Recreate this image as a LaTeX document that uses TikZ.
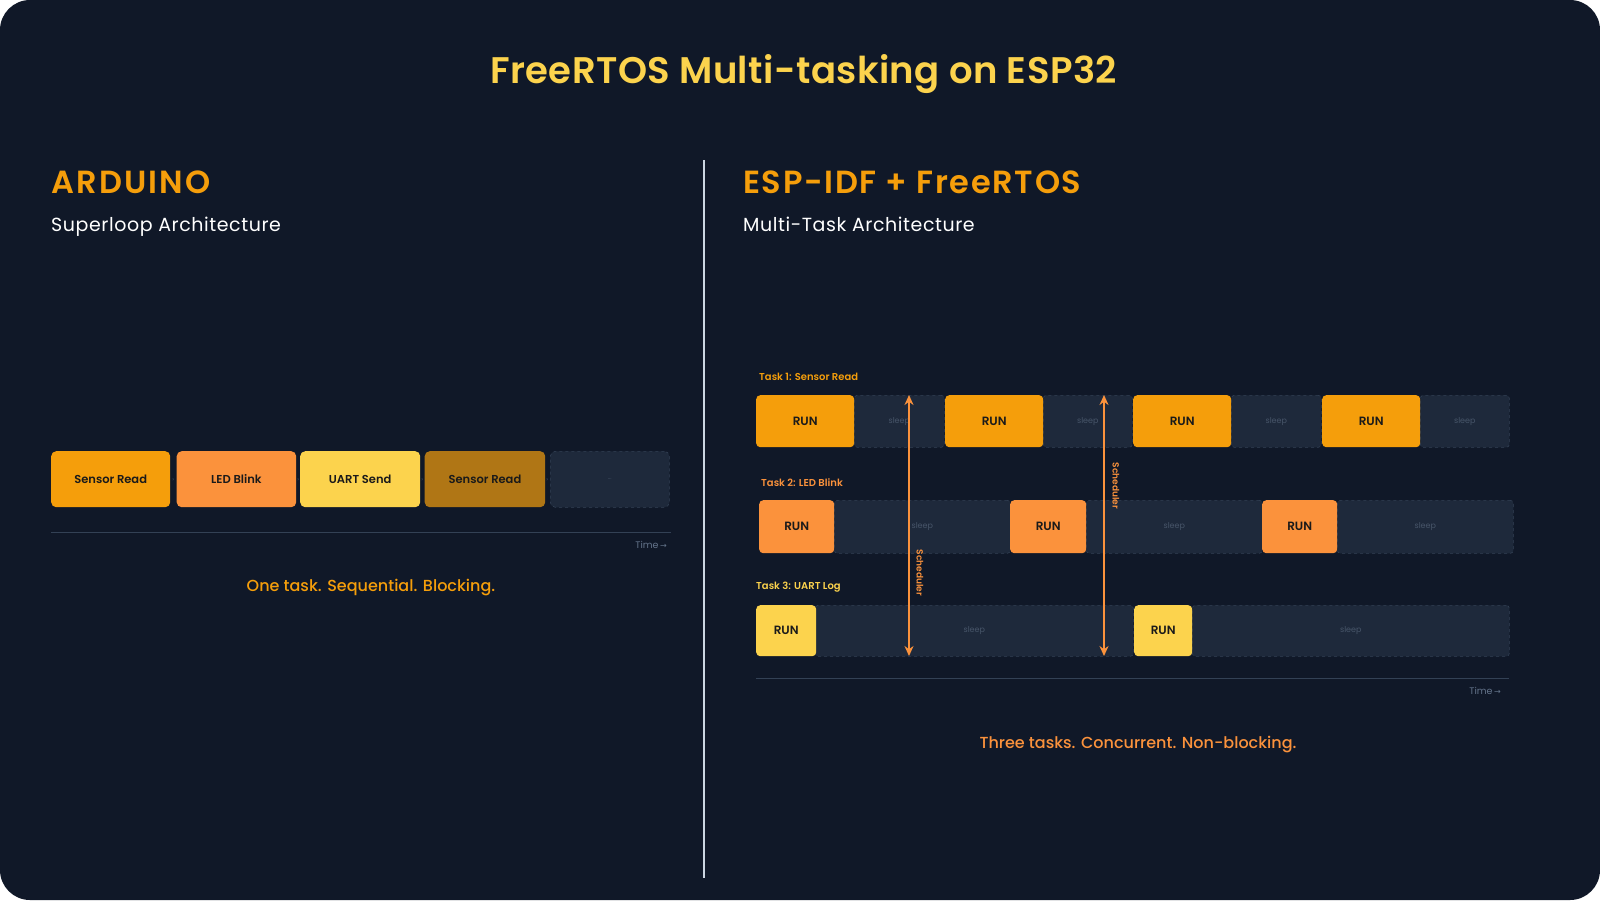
\documentclass[tikz,border=0pt]{standalone}
\usepackage{fontspec}
\setmainfont{Poppins}
\newfontfamily\semib{Poppins SemiBold}
\newfontfamily\medf{Poppins Medium}
\newfontfamily\hdrf{Poppins SemiBold}[LetterSpace=7]
\newfontfamily\hdrfb{Poppins SemiBold}[LetterSpace=5.2]
\newfontfamily\ttlf{Poppins SemiBold}[LetterSpace=1.2]
\newfontfamily\subf{Poppins}[LetterSpace=3]
\newfontfamily\dejavu{DejaVu Sans}
\usetikzlibrary{arrows.meta}
\definecolor{bgc}{HTML}{101828}
\definecolor{amber}{HTML}{F59E0B}
\definecolor{orng}{HTML}{FB923C}
\definecolor{yell}{HTML}{FCD34D}
\definecolor{dkamber}{HTML}{B07615}
\definecolor{cellbg}{HTML}{1E293B}
\definecolor{cellln}{HTML}{334155}
\definecolor{sleeptx}{HTML}{475569}
\definecolor{timetx}{HTML}{64748B}
\definecolor{darktx}{HTML}{1A1A1A}
\definecolor{divln}{HTML}{CBD5E1}
\tikzset{
  runbox/.style={rectangle, rounded corners=4pt, inner sep=0pt, anchor=north west, text=darktx, font=\semib\fontsize{12}{14}\selectfont},
  sleepbox/.style={rectangle, rounded corners=3pt, inner sep=0pt, anchor=north west, fill=cellbg, draw=cellln, dashed, line width=0.6pt, text=sleeptx, font=\fontsize{8}{10}\selectfont},
  lbox/.style={rectangle, rounded corners=5pt, inner sep=0pt, anchor=north west, minimum height=56pt, text=darktx, font=\semib\fontsize{11.5}{13}\selectfont},
  tasklbl/.style={anchor=west, inner sep=0pt, font=\semib\fontsize{10}{12}\selectfont},
  hdr/.style={anchor=base west, inner sep=0pt, text=amber, font=\hdrf\fontsize{32}{36}\selectfont},
  sub/.style={anchor=base west, inner sep=0pt, text=white, font=\subf\fontsize{19}{22}\selectfont},
  timelbl/.style={anchor=east, inner sep=0pt, text=timetx, font=\fontsize{9.5}{11}\selectfont},
  sched/.style={draw=orng, line width=1.8pt, {Stealth[length=10pt,width=9pt]}-{Stealth[length=10pt,width=9pt]}},
  schedlbl/.style={rotate=-90, inner sep=0pt, text=orng, font=\semib\fontsize{9}{11}\selectfont},
  gapmark/.style={inner sep=0pt, text=sleeptx, font=\fontsize{6}{7}\selectfont},
  foot/.style={inner sep=0pt, anchor=base, font=\medf\fontsize{16}{19}\selectfont}
}
\begin{document}
\begin{tikzpicture}[x=1pt,y=-1pt]
\useasboundingbox (0,0) rectangle (1600,900);
\fill[white] (0,0) rectangle (1600,900);
\fill[bgc, rounded corners=30pt] (0,0) rectangle (1600,900);

% title
\node[inner sep=0pt, anchor=base, text=yell, font=\ttlf\fontsize{37}{42}\selectfont] (title) at (803.5,83) {FreeRTOS Multi-tasking on ESP32};

% divider
\coordinate (dtop) at (704,160);
\coordinate (dbot) at (704,878);
\draw[divln, line width=1.2pt] (dtop) -- (dbot);

% ---------- left panel ----------
\node[hdr] (ard) at (51,193) {ARDUINO};
\node[sub] (ardsub) at (51,231) {Superloop Architecture};

\node[lbox, fill=amber, minimum width=119pt] (b1) at (51,451) {Sensor Read};
\node[lbox, fill=orng, minimum width=119.5pt] (b2) at (176.5,451) {LED Blink};
\node[lbox, fill=yell, minimum width=120pt] (b3) at (300,451) {UART Send};
\node[lbox, fill=dkamber, minimum width=120.5pt] (b4) at (424.5,451) {Sensor Read};
\node[lbox, fill=cellbg, draw=cellln, dashed, line width=0.6pt, minimum width=119pt, text=sleeptx, font=\fontsize{6}{7}\selectfont] (b5) at (550,451) {...};
\node[gapmark] (g1) at (173.2,480) {›};
\node[gapmark] (g2) at (298.2,480) {›};
\node[gapmark] (g3) at (422.2,480) {›};
\node[gapmark] (g4) at (547.2,480) {›};

\coordinate (lal) at (51,532);
\coordinate (lar) at (671,532);
\draw[cellln, line width=1pt] (lal) -- (lar);
\node[timelbl] (ltime) at (667,545) {Time\,{\dejavu\fontsize{8}{10}\selectfont →}};
\node[foot, text=amber] (lfoot) at (371,591.5) {One task. Sequential. Blocking.};

% ---------- right panel ----------
\node[hdr, font=\hdrfb\fontsize{32}{36}\selectfont] (esp) at (743,193) {ESP-IDF + FreeRTOS};
\node[sub] (espsub) at (743,231) {Multi-Task Architecture};

% Task 1
\node[tasklbl, text=amber] (t1) at (759,377) {Task 1: Sensor Read};
\node[sleepbox, minimum width=90pt, minimum height=52pt] (s11) at (854,395) {sleep};
\node[sleepbox, minimum width=89pt, minimum height=52pt] (s12) at (1043,395) {sleep};
\node[sleepbox, minimum width=90pt, minimum height=52pt] (s13) at (1231,395) {sleep};
\node[sleepbox, minimum width=89pt, minimum height=52pt] (s14) at (1420,395) {sleep};
\node[runbox, fill=amber, minimum width=98pt, minimum height=52pt] (r11) at (756,395) {RUN};
\node[runbox, fill=amber, minimum width=98pt, minimum height=52pt] (r12) at (945,395) {RUN};
\node[runbox, fill=amber, minimum width=98pt, minimum height=52pt] (r13) at (1133,395) {RUN};
\node[runbox, fill=amber, minimum width=98pt, minimum height=52pt] (r14) at (1322,395) {RUN};

% Task 2
\node[tasklbl, text=orng] (t2) at (761,483) {Task 2: LED Blink};
\node[sleepbox, minimum width=176pt, minimum height=53pt] (s21) at (834,500) {sleep};
\node[sleepbox, minimum width=176pt, minimum height=53pt] (s22) at (1086,500) {sleep};
\node[sleepbox, minimum width=176pt, minimum height=53pt] (s23) at (1337,500) {sleep};
\node[runbox, fill=orng, minimum width=75pt, minimum height=53pt] (r21) at (759,500) {RUN};
\node[runbox, fill=orng, minimum width=76pt, minimum height=53pt] (r22) at (1010,500) {RUN};
\node[runbox, fill=orng, minimum width=75pt, minimum height=53pt] (r23) at (1262,500) {RUN};

% Task 3
\node[tasklbl, text=yell] (t3) at (756,587) {Task 3: UART Log};
\node[sleepbox, minimum width=318pt, minimum height=51pt] (s31) at (815,605) {sleep};
\node[sleepbox, minimum width=317pt, minimum height=51pt] (s32) at (1192,605) {sleep};
\node[runbox, fill=yell, minimum width=60pt, minimum height=51pt] (r31) at (756,605) {RUN};
\node[runbox, fill=yell, minimum width=58pt, minimum height=51pt] (r32) at (1134,605) {RUN};

% scheduler arrows
\coordinate (sa1t) at (909,395);
\coordinate (sa1b) at (909,656);
\coordinate (sa2t) at (1104,395);
\coordinate (sa2b) at (1104,656);
\draw[sched] (sa1t) -- (sa1b);
\draw[sched] (sa2t) -- (sa2b);
\node[schedlbl] (sl1) at (920,573) {Scheduler};
\node[schedlbl] (sl2) at (1116,486) {Scheduler};

% time axis
\coordinate (ral) at (756,678);
\coordinate (rar) at (1509,678);
\draw[cellln, line width=1pt] (ral) -- (rar);
\node[timelbl] (rtime) at (1501,691) {Time\,{\dejavu\fontsize{8}{10}\selectfont →}};
\node[foot, text=orng] (rfoot) at (1138,748.5) {Three tasks. Concurrent. Non-blocking.};
\end{tikzpicture}
\end{document}
